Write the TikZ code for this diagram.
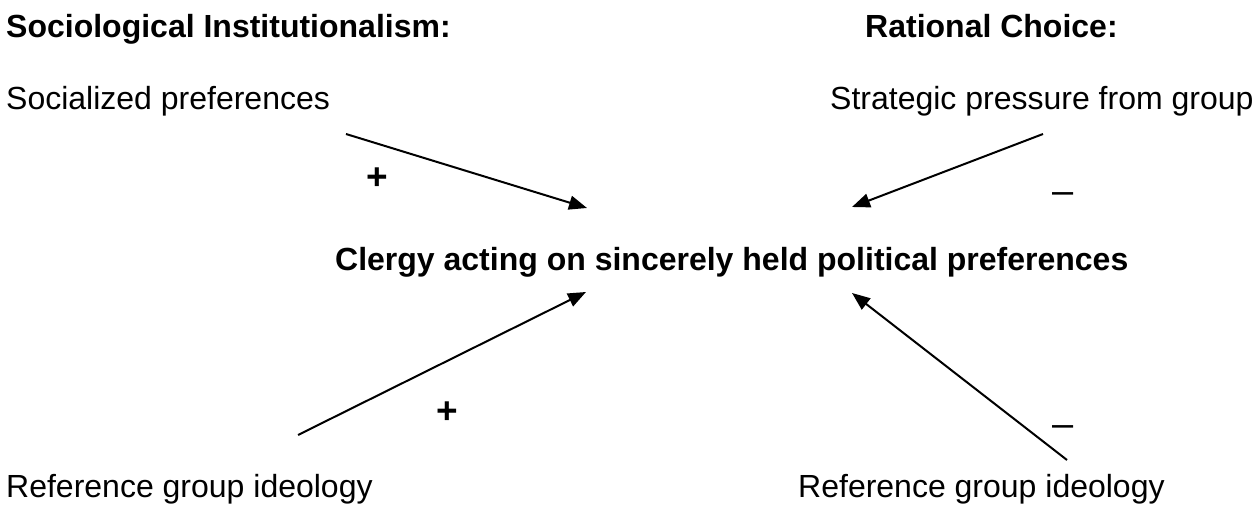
\documentclass[tikz,border=0pt]{standalone}
\usepackage{fontspec}
\setmainfont{Liberation Sans}
\usetikzlibrary{arrows.meta}
\begin{document}
\begin{tikzpicture}[x=1pt,y=-1pt,
  lbl/.style={inner sep=0pt,font=\fontsize{32}{38}\selectfont},
  hdr/.style={inner sep=0pt,font=\fontsize{32}{38}\selectfont\bfseries},
  sign/.style={inner sep=0pt,font=\fontsize{37}{40}\selectfont\bfseries},
  dashsign/.style={inner sep=0pt,font=\fontsize{38}{40}\selectfont},
  conn/.style={line width=2pt,-{Triangle[length=18pt,width=14pt]}}]
\useasboundingbox (0,0) rectangle (1257,510);
\node[hdr,anchor=base west] (h1) at (6,38) {Sociological Institutionalism:};
\node[hdr,anchor=base west] (h2) at (865,38) {Rational Choice:};
\node[lbl,anchor=base west] (sp) at (6,110) {Socialized preferences};
\node[lbl,anchor=base west] (spg) at (830,110) {Strategic pressure from group};
\node[hdr,anchor=base west] (c) at (335,271) {Clergy acting on sincerely held political preferences};
\node[lbl,anchor=base west] (rg1) at (6,497) {Reference group ideology};
\node[lbl,anchor=base west] (rg2) at (798,497) {Reference group ideology};
\coordinate (a1s) at (346,134);
\coordinate (a1e) at (587,208);
\coordinate (a2s) at (1043,134);
\coordinate (a2e) at (852,207);
\coordinate (a3s) at (298,435);
\coordinate (a3e) at (586,292);
\coordinate (a4s) at (1067,460);
\coordinate (a4e) at (852,293);
\draw[conn] (a1s) -- (a1e);
\draw[conn] (a2s) -- (a2e);
\draw[conn] (a3s) -- (a3e);
\draw[conn] (a4s) -- (a4e);
\node[sign] (p1) at (377,179) {+};
\node[sign] (p2) at (447,413) {+};
\node[dashsign] (m1) at (1063,198) {–};
\node[dashsign] (m2) at (1063,431) {–};
\end{tikzpicture}
\end{document}
